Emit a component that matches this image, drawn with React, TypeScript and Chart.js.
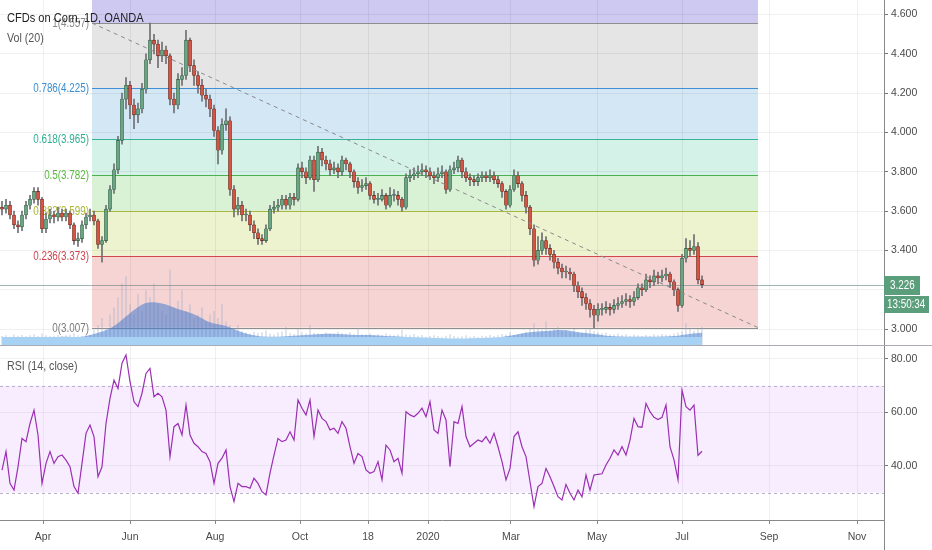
import React, { useEffect, useRef } from 'react';
import { Chart, registerables } from 'chart.js';

Chart.register(...registerables);

const FONT = "'Liberation Sans', Arial, sans-serif";
const CONDENSE = 0.82;

// Each candle = 2 trading sessions (bar index on the x axis)
const opens = [
  3.62,3.61,3.63,3.58,3.53,3.52,3.58,3.63,3.66,3.70,
  3.66,3.51,3.56,3.58,3.57,3.59,3.57,3.59,3.53,3.45,
  3.46,3.53,3.57,3.58,3.55,3.43,3.45,3.61,3.71,3.81,
  3.96,4.17,4.24,4.14,4.09,4.12,4.22,4.37,4.47,4.45,
  4.39,4.42,4.39,4.17,4.14,4.27,4.29,4.47,4.34,4.29,
  4.24,4.19,4.17,4.12,4.01,3.91,4.04,4.06,3.71,3.61,
  3.63,3.58,3.58,3.53,3.49,3.46,3.45,3.51,3.61,3.62,
  3.63,3.66,3.63,3.67,3.66,3.82,3.80,3.77,3.86,3.76,
  3.90,3.86,3.84,3.81,3.82,3.80,3.86,3.84,3.80,3.75,
  3.72,3.73,3.74,3.68,3.66,3.66,3.68,3.63,3.68,3.68,
  3.66,3.62,3.77,3.78,3.79,3.80,3.81,3.80,3.78,3.77,
  3.79,3.80,3.71,3.81,3.82,3.86,3.80,3.77,3.76,3.75,
  3.77,3.78,3.77,3.78,3.76,3.74,3.70,3.63,3.71,3.78,
  3.74,3.68,3.62,3.51,3.35,3.40,3.45,3.41,3.38,3.34,
  3.31,3.29,3.29,3.28,3.22,3.19,3.16,3.13,3.10,3.07,
  3.10,3.10,3.11,3.10,3.12,3.13,3.14,3.15,3.14,3.16,
  3.21,3.20,3.25,3.24,3.27,3.26,3.27,3.28,3.24,3.20,
  3.12,3.36,3.41,3.40,3.42,3.25,
];
const highs = [
  3.65,3.66,3.65,3.60,3.55,3.60,3.65,3.68,3.72,3.72,
  3.67,3.59,3.61,3.60,3.62,3.61,3.61,3.60,3.54,3.49,
  3.55,3.59,3.61,3.60,3.56,3.47,3.63,3.73,3.84,3.98,
  4.20,4.28,4.26,4.17,4.15,4.25,4.40,4.557,4.50,4.47,
  4.46,4.44,4.40,4.20,4.30,4.33,4.52,4.48,4.37,4.31,
  4.27,4.22,4.19,4.14,4.03,4.07,4.12,4.08,3.73,3.67,
  3.65,3.61,3.60,3.55,3.51,3.48,3.53,3.63,3.65,3.66,
  3.68,3.68,3.69,3.69,3.84,3.85,3.82,3.88,3.88,3.93,
  3.92,3.88,3.86,3.85,3.84,3.88,3.87,3.85,3.81,3.77,
  3.76,3.77,3.75,3.70,3.69,3.71,3.69,3.72,3.71,3.70,
  3.67,3.79,3.81,3.82,3.83,3.84,3.83,3.82,3.80,3.82,
  3.83,3.81,3.83,3.85,3.88,3.87,3.82,3.79,3.78,3.79,
  3.80,3.80,3.81,3.80,3.78,3.75,3.71,3.73,3.81,3.80,
  3.75,3.70,3.63,3.53,3.47,3.49,3.47,3.43,3.40,3.36,
  3.33,3.32,3.31,3.29,3.24,3.21,3.18,3.15,3.12,3.13,
  3.13,3.14,3.13,3.15,3.16,3.17,3.18,3.17,3.19,3.23,
  3.23,3.28,3.27,3.30,3.29,3.30,3.31,3.29,3.25,3.21,
  3.38,3.46,3.45,3.48,3.44,3.27,
];
const lows = [
  3.58,3.59,3.56,3.51,3.49,3.50,3.56,3.61,3.64,3.63,
  3.49,3.49,3.54,3.54,3.55,3.55,3.55,3.51,3.43,3.42,
  3.44,3.51,3.55,3.53,3.41,3.34,3.44,3.60,3.69,3.79,
  3.94,4.12,4.07,4.02,4.05,4.10,4.20,4.35,4.40,4.33,
  4.36,4.35,4.14,4.10,4.12,4.24,4.27,4.31,4.24,4.20,
  4.16,4.13,4.08,3.98,3.84,3.89,4.01,3.68,3.57,3.58,
  3.55,3.55,3.50,3.46,3.43,3.43,3.44,3.50,3.59,3.60,
  3.61,3.61,3.61,3.63,3.65,3.77,3.74,3.76,3.70,3.75,
  3.83,3.81,3.78,3.79,3.77,3.78,3.81,3.77,3.72,3.69,
  3.70,3.71,3.66,3.64,3.63,3.65,3.61,3.62,3.65,3.63,
  3.60,3.61,3.75,3.76,3.77,3.78,3.77,3.76,3.74,3.75,
  3.77,3.69,3.70,3.79,3.80,3.77,3.75,3.73,3.73,3.73,
  3.75,3.75,3.75,3.74,3.72,3.67,3.61,3.62,3.70,3.72,
  3.65,3.59,3.48,3.32,3.33,3.38,3.38,3.35,3.31,3.28,
  3.26,3.26,3.25,3.19,3.16,3.12,3.10,3.06,3.007,3.04,
  3.07,3.08,3.07,3.08,3.10,3.11,3.12,3.11,3.12,3.15,
  3.17,3.19,3.21,3.22,3.23,3.24,3.25,3.21,3.17,3.09,
  3.11,3.34,3.37,3.38,3.23,3.21,
];
const closes = [
  3.61,3.63,3.58,3.53,3.52,3.58,3.63,3.66,3.70,3.66,
  3.51,3.56,3.58,3.57,3.59,3.57,3.59,3.53,3.45,3.46,
  3.53,3.57,3.58,3.55,3.43,3.45,3.61,3.71,3.81,3.96,
  4.17,4.24,4.14,4.09,4.12,4.22,4.37,4.47,4.45,4.39,
  4.42,4.39,4.17,4.14,4.27,4.29,4.47,4.34,4.29,4.24,
  4.19,4.17,4.12,4.01,3.91,4.04,4.06,3.71,3.61,3.63,
  3.58,3.58,3.53,3.49,3.46,3.45,3.51,3.61,3.62,3.63,
  3.66,3.63,3.67,3.66,3.82,3.80,3.77,3.86,3.76,3.90,
  3.86,3.84,3.81,3.82,3.80,3.86,3.84,3.80,3.75,3.72,
  3.73,3.74,3.68,3.66,3.66,3.68,3.63,3.68,3.68,3.66,
  3.62,3.77,3.78,3.79,3.80,3.81,3.80,3.78,3.77,3.79,
  3.80,3.71,3.81,3.82,3.86,3.80,3.77,3.76,3.75,3.77,
  3.78,3.77,3.78,3.76,3.74,3.70,3.63,3.71,3.78,3.74,
  3.68,3.62,3.51,3.35,3.40,3.45,3.41,3.38,3.34,3.31,
  3.29,3.29,3.28,3.22,3.19,3.16,3.13,3.10,3.07,3.10,
  3.10,3.11,3.10,3.12,3.13,3.14,3.15,3.14,3.16,3.21,
  3.20,3.25,3.24,3.27,3.26,3.27,3.28,3.24,3.20,3.12,
  3.36,3.41,3.40,3.42,3.25,3.226,
];
const volumes = [
  2.8,3.0,2.6,3.2,2.9,3.1,2.7,3.0,3.3,2.8,3.5,3.0,2.7,2.9,3.1,2.8,3.0,3.2,3.6,3.0,2.9,3.3,3.1,
  4.5,6,8,5,9,11,14,18,20,12,9,15,10,16,14,18,12,10,9,22,11,13,16,10,12,8,9,11,7,9,10,8,12,7,6,5,6,
  4.2,3.8,3.5,4.0,3.6,3.9,4.4,3.5,3.2,3.8,4.1,5.5,3.6,3.4,4.8,3.9,3.5,6.0,3.7,3.6,
  3.4,3.8,3.5,3.3,4.0,3.6,3.5,3.9,3.4,5.2,3.3,3.2,3.6,3.0,3.4,3.1,3.5,3.2,3.0,3.3,
  4.5,3.2,3.0,3.4,2.9,3.1,2.6,2.8,3.0,2.7,2.5,2.9,3.3,2.8,2.6,2.7,3.0,2.6,2.8,2.5,
  2.9,2.7,3.1,2.8,3.0,3.4,3.2,3.9,3.1,3.3,3.6,
  4.0,4.8,6.5,5.2,4.6,7.0,4.4,4.9,5.5,4.2,4.5,3.9,4.8,4.1,3.8,4.6,5.0,4.3,3.9,3.6,
  3.8,3.4,3.2,3.5,3.1,3.3,2.9,3.2,3.0,2.8,3.1,2.9,3.3,3.0,3.4,3.2,3.1,3.5,3.8,4.2,
  6.5,5.0,4.4,4.8,5.5,
];
// Vol (20) moving average, sampled every 4th candle
const volumeMA = [
  2.6,2.6,2.6,2.6,2.7,2.7,3.8,5.8,9.5,12.4,12.3,10.7,9.2,6.9,5.8,4.0,2.9,2.7,2.9,3.2,
  3.5,3.5,3.2,3.2,2.9,2.7,2.5,2.3,2.2,2.2,2.3,2.5,3.2,4.0,4.3,4.6,4.0,3.5,2.9,2.7,
  2.7,2.7,2.9,3.5,3.8,
];
const volumeStripLevel = 2.7;
const rsiValues = [
  38.5,45.4,33.5,31.0,39.7,50.3,49.1,55.9,60.9,51.6,
  33.5,41.0,45.4,41.0,43.5,44.1,42.2,39.7,32.3,29.8,
  41.0,52.2,55.3,51.0,36.0,39.7,55.9,65.3,72.1,69.0,
  78.4,81.5,71.5,64.0,62.2,67.2,74.6,76.5,65.9,67.2,
  65.9,60.9,43.5,54.7,55.9,51.6,62.8,51.6,48.5,47.2,
  45.4,44.7,41.6,33.5,41.0,42.9,46.0,32.3,26.7,33.5,
  32.3,32.3,31.7,35.4,33.5,30.4,29.2,37.3,44.1,50.3,
  49.1,49.7,52.8,49.7,64.7,61.6,59.1,64.7,51.0,60.9,
  57.8,56.6,53.5,54.1,52.2,56.6,54.1,47.2,41.0,44.7,
  43.5,38.5,37.3,37.9,41.6,34.8,47.8,46.0,41.6,42.9,
  37.3,60.3,59.1,58.4,59.7,61.6,58.4,64.0,53.5,52.2,
  60.9,57.2,39.7,56.6,55.9,62.2,51.0,
  47.2,48.5,49.7,49.1,51.0,48.5,52.2,47.2,41.6,34.8,
  39.1,51.0,52.8,47.2,43.5,34.1,24.8,32.3,33.5,39.1,
  36.0,32.3,28.5,27.3,33.1,29.8,27.3,31.0,28.5,36.6,
  31.0,36.6,36.9,37.1,40.4,42.9,46.0,44.1,47.2,44.1,
  49.7,57.8,54.7,54.5,63.4,60.3,58.2,57.4,58.2,62.8,
  47.2,42.3,34.8,68.4,62.2,60.9,62.8,44.0,45.5,
];

const priceTicks = [3.0, 3.2, 3.4, 3.6, 3.8, 4.0, 4.2, 4.4, 4.6];
const rsiTicks = [40, 60, 80];
const rsiBands = [70, 30];
const monthTicks = [21.5, 65, 107.5, 150, 184, 214, 255.5, 298.5, 341, 384.5, 428.5];
const monthLabels = ['Apr', 'Jun', 'Aug', 'Oct', '18', '2020', 'Mar', 'May', 'Jul', 'Sep', 'Nov'];

const fibRatios = [1, 0.786, 0.618, 0.5, 0.382, 0.236, 0];
const fibPrices = [4.557, 4.225, 3.965, 3.782, 3.599, 3.373, 3.007];
const fibLineColors = ['#8e8e8e', '#3f8fd2', '#36b394', '#4caf50', '#a9b83c', '#d04848', '#8e8e8e'];
const fibLabelColors = ['#8a8a8a', '#3a8ed0', '#2fb08f', '#55b83a', '#a9b634', '#d0434d', '#7a7a7a'];
const fibBandColors = ['#cdc9f1', '#e5e5e5', '#d3e7f5', '#d4f2e7', '#d9f1d5', '#eef3cf', '#f6d4d4'];
const fibStartBar = 46;
const fibEndBar = 379;

const lastPrice = 3.226;
const countdown = '13:50:34';

const X_MIN = 0;
const X_MAX = 442;
const candleT = (i: number) => 1 + 2 * i;

function condensedText(ctx: any, text: string, x: number, y: number, align: string) {
  ctx.save();
  ctx.translate(x, y);
  ctx.scale(CONDENSE, 1);
  ctx.textAlign = align;
  ctx.fillText(text, 0, 0);
  ctx.restore();
}

const noPad = (s: any) => {
  s.paddingTop = 0;
  s.paddingBottom = 0;
  s.paddingLeft = 0;
  s.paddingRight = 0;
};

const fibPlugin = {
  id: 'fibTools',
  beforeDraw(chart: any) {
    const { ctx, chartArea, scales } = chart;
    const x = scales.x, y = scales.y;
    const x0 = x.getPixelForValue(fibStartBar), x1 = x.getPixelForValue(fibEndBar);
    ctx.save();
    ctx.fillStyle = fibBandColors[0];
    ctx.fillRect(x0, chartArea.top, x1 - x0, y.getPixelForValue(fibPrices[0]) - chartArea.top);
    for (let k = 0; k < fibPrices.length - 1; k++) {
      const ya = y.getPixelForValue(fibPrices[k]);
      const yb = y.getPixelForValue(fibPrices[k + 1]);
      ctx.fillStyle = fibBandColors[k + 1];
      ctx.fillRect(x0, ya, x1 - x0, yb - ya);
    }
    ctx.restore();
  },
  beforeDatasetsDraw(chart: any) {
    const { ctx, scales } = chart;
    const x = scales.x, y = scales.y;
    const x0 = x.getPixelForValue(fibStartBar), x1 = x.getPixelForValue(fibEndBar);
    ctx.save();
    ctx.font = `12px ${FONT}`;
    ctx.textBaseline = 'middle';
    fibPrices.forEach((p, k) => {
      const py = Math.round(y.getPixelForValue(p)) + 0.5;
      ctx.strokeStyle = fibLineColors[k];
      ctx.lineWidth = 1;
      ctx.beginPath();
      ctx.moveTo(x0, py);
      ctx.lineTo(x1, py);
      ctx.stroke();
      ctx.fillStyle = fibLabelColors[k];
      condensedText(ctx, `${fibRatios[k]}(${p.toFixed(3)})`, x0 - 3, py, 'right');
    });
    ctx.restore();
  },
  afterDatasetsDraw(chart: any) {
    const { ctx, chartArea, scales } = chart;
    const x = scales.x, y = scales.y;
    ctx.save();
    ctx.strokeStyle = '#8a8a8a';
    ctx.setLineDash([4, 4]);
    ctx.lineWidth = 1;
    ctx.beginPath();
    ctx.moveTo(x.getPixelForValue(fibStartBar), y.getPixelForValue(fibPrices[0]));
    ctx.lineTo(x.getPixelForValue(fibEndBar), y.getPixelForValue(fibPrices[fibPrices.length - 1]));
    ctx.stroke();
    ctx.setLineDash([]);
    const py = Math.round(y.getPixelForValue(lastPrice)) + 0.5;
    ctx.strokeStyle = 'rgba(90,120,120,0.55)';
    ctx.beginPath();
    ctx.moveTo(chartArea.left, py);
    ctx.lineTo(chartArea.right, py);
    ctx.stroke();
    ctx.restore();
  },
  afterDraw(chart: any) {
    const { ctx, chartArea, scales } = chart;
    const y = scales.y;
    const py = Math.round(y.getPixelForValue(lastPrice));
    const left = chartArea.right;
    ctx.save();
    ctx.fillStyle = '#5a9e7b';
    ctx.fillRect(left, py - 9, 36, 19);
    ctx.fillRect(left, py + 11, 45, 17);
    ctx.fillStyle = '#ffffff';
    ctx.font = `12px ${FONT}`;
    ctx.textBaseline = 'middle';
    condensedText(ctx, lastPrice.toFixed(3), left + 6, py + 1, 'left');
    condensedText(ctx, countdown, left + 3, py + 20, 'left');
    ctx.strokeStyle = '#a9acb5';
    ctx.lineWidth = 1;
    ctx.beginPath();
    ctx.moveTo(0, chart.height - 0.5);
    ctx.lineTo(chart.width, chart.height - 0.5);
    ctx.stroke();
    ctx.restore();
  },
};

const rsiPlugin = {
  id: 'rsiTools',
  beforeDatasetsDraw(chart: any) {
    const { ctx, chartArea: a, scales } = chart;
    const y = scales.y;
    const yU = y.getPixelForValue(rsiBands[0]);
    const yL = y.getPixelForValue(rsiBands[1]);
    ctx.save();
    ctx.fillStyle = 'rgba(153,21,255,0.08)';
    ctx.fillRect(a.left, yU, a.right - a.left, yL - yU);
    ctx.strokeStyle = '#b9b1c6';
    ctx.setLineDash([3, 3]);
    ctx.lineWidth = 1;
    [yU, yL].forEach((v) => {
      const yy = Math.round(v) + 0.5;
      ctx.beginPath();
      ctx.moveTo(a.left, yy);
      ctx.lineTo(a.right, yy);
      ctx.stroke();
    });
    ctx.restore();
  },
  afterDraw(chart: any) {
    const { ctx, chartArea: a } = chart;
    ctx.save();
    ctx.strokeStyle = '#888888';
    ctx.lineWidth = 1;
    ctx.beginPath();
    ctx.moveTo(Math.round(a.right) + 0.5, a.bottom);
    ctx.lineTo(Math.round(a.right) + 0.5, chart.height);
    ctx.stroke();
    ctx.restore();
  },
};

function maFill(context: any) {
  const chart = context.chart;
  const area = chart.chartArea;
  if (!area) return 'rgba(55,115,205,0.5)';
  const yv = chart.scales.yv;
  const yStrip = yv.getPixelForValue(volumeStripLevel);
  const f = Math.min(1, Math.max(0, (area.bottom - yStrip) / (area.bottom - area.top)));
  const g = chart.ctx.createLinearGradient(0, area.bottom, 0, area.top);
  g.addColorStop(0, '#a7d2f4');
  g.addColorStop(f, '#a7d2f4');
  g.addColorStop(f, 'rgba(55,115,205,0.5)');
  g.addColorStop(1, 'rgba(55,115,205,0.5)');
  return g;
}

function PriceChart() {
  const ref = useRef<HTMLCanvasElement>(null);
  useEffect(() => {
    const canvas = ref.current;
    if (!canvas) return;
    const up = closes.map((c, i) => c >= opens[i]);
    const chart = new Chart(canvas, {
      type: 'bar',
      data: {
        datasets: [
          {
            type: 'bar',
            label: 'Candles',
            data: opens.map((o, i) => ({ x: candleT(i), y: [o, closes[i]] })),
            backgroundColor: up.map((u) => (u ? '#6ba583' : '#d75442')),
            borderColor: up.map((u) => (u ? '#225437' : '#5b1a13')),
            borderWidth: 0.6,
            borderSkipped: false,
            barThickness: 3,
            minBarLength: 1,
            grouped: false,
            yAxisID: 'y',
            order: 0,
          } as any,
          {
            type: 'bar',
            label: 'Wicks',
            data: lows.map((l, i) => ({ x: candleT(i), y: [l, highs[i]] })),
            backgroundColor: '#6f6f72',
            barThickness: 1,
            grouped: false,
            yAxisID: 'y',
            order: 1,
          } as any,
          {
            type: 'line',
            label: 'Vol (20)',
            data: volumeMA.map((v, k) => ({ x: candleT(Math.min(4 * k, closes.length - 1)), y: v })),
            yAxisID: 'yv',
            fill: 'origin',
            backgroundColor: maFill,
            borderWidth: 0,
            borderColor: 'rgba(0,0,0,0)',
            pointRadius: 0,
            tension: 0.35,
            order: 2,
          } as any,
          {
            type: 'bar',
            label: 'Volume',
            data: volumes.map((v, i) => ({ x: candleT(i), y: v })),
            backgroundColor: 'rgba(150,165,195,0.35)',
            barThickness: 1,
            grouped: false,
            yAxisID: 'yv',
            order: 3,
          } as any,
        ],
      },
      options: {
        animation: false,
        responsive: false,
        maintainAspectRatio: false,
        layout: { padding: 0 },
        plugins: { legend: { display: false }, tooltip: { enabled: false } },
        scales: {
          x: {
            type: 'linear',
            min: X_MIN,
            max: X_MAX,
            offset: false,
            afterBuildTicks: (s: any) => { s.ticks = monthTicks.map((v) => ({ value: v })); },
            afterFit: (s: any) => { s.height = 0; noPad(s); },
            ticks: { display: false },
            grid: { color: 'rgba(0,0,0,0.06)', drawTicks: false, offset: false },
            border: { display: false },
          },
          y: {
            type: 'linear',
            position: 'right',
            min: 2.9135,
            max: 4.6743,
            afterBuildTicks: (s: any) => { s.ticks = priceTicks.map((v) => ({ value: v })); },
            afterFit: (s: any) => { s.width = 48; noPad(s); },
            ticks: {
              callback: (v: any) => Number(v).toFixed(3),
              color: '#4a4a4a',
              font: { family: FONT, size: 10.5 },
              padding: 3,
            },
            grid: { color: 'rgba(0,0,0,0.06)', tickColor: '#777', tickLength: 4 },
            border: { color: '#888' },
          },
          yv: {
            type: 'linear',
            display: false,
            min: 0,
            max: 100,
          },
        },
      } as any,
      plugins: [fibPlugin],
    });
    return () => chart.destroy();
  }, []);
  return (
    <canvas
      ref={ref}
      width={932}
      height={346}
      style={{ position: 'absolute', left: 0, top: 0, width: 932, height: 346 }}
    />
  );
}

function RsiChart() {
  const ref = useRef<HTMLCanvasElement>(null);
  useEffect(() => {
    const canvas = ref.current;
    if (!canvas) return;
    const chart = new Chart(canvas, {
      type: 'line',
      data: {
        datasets: [
          {
            label: 'RSI (14, close)',
            data: rsiValues.map((v, i) => ({ x: candleT(i), y: v })),
            borderColor: '#9b2fb2',
            borderWidth: 1.2,
            pointRadius: 0,
            tension: 0,
            fill: false,
          },
        ],
      },
      options: {
        animation: false,
        responsive: false,
        maintainAspectRatio: false,
        layout: { padding: 0 },
        plugins: { legend: { display: false }, tooltip: { enabled: false } },
        scales: {
          x: {
            type: 'linear',
            min: X_MIN,
            max: X_MAX,
            afterBuildTicks: (s: any) => { s.ticks = monthTicks.map((v) => ({ value: v })); },
            afterFit: (s: any) => { s.height = 30; noPad(s); },
            ticks: {
              callback: (v: any) => {
                const k = monthTicks.indexOf(Number(v));
                return k >= 0 ? monthLabels[k] : '';
              },
              color: '#4a4a4a',
              font: { family: FONT, size: 10.5 },
              padding: 7,
              maxRotation: 0,
              autoSkip: false,
            },
            grid: { color: 'rgba(0,0,0,0.06)', tickColor: '#888', tickLength: 4 },
            border: { color: '#888' },
          },
          y: {
            type: 'linear',
            position: 'right',
            min: 19.81,
            max: 84.86,
            afterBuildTicks: (s: any) => { s.ticks = rsiTicks.map((v) => ({ value: v })); },
            afterFit: (s: any) => { s.width = 48; noPad(s); },
            ticks: {
              callback: (v: any) => Number(v).toFixed(2),
              color: '#4a4a4a',
              font: { family: FONT, size: 10.5 },
              padding: 3,
            },
            grid: { color: 'rgba(0,0,0,0.06)', tickColor: '#777', tickLength: 4 },
            border: { color: '#888' },
          },
        },
      } as any,
      plugins: [rsiPlugin],
    });
    return () => chart.destroy();
  }, []);
  return (
    <canvas
      ref={ref}
      width={932}
      height={204}
      style={{ position: 'absolute', left: 0, top: 346, width: 932, height: 204 }}
    />
  );
}

const labelStyle = (top: number, color: string, size: number) => ({
  position: 'absolute' as const,
  left: 7,
  top,
  fontSize: size,
  lineHeight: '16px',
  color,
  whiteSpace: 'nowrap' as const,
  transform: `scaleX(${CONDENSE})`,
  transformOrigin: 'left center',
});

export default function App() {
  return (
    <div
      style={{
        position: 'fixed',
        left: 0,
        top: 0,
        width: 932,
        height: 550,
        background: '#ffffff',
        fontFamily: FONT,
        overflow: 'hidden',
      }}
    >
      <PriceChart />
      <RsiChart />
      <div style={labelStyle(10, '#222', 13.5)}>CFDs on Corn, 1D, OANDA</div>
      <div style={labelStyle(30, '#555', 13)}>Vol (20)</div>
      <div style={labelStyle(358, '#555', 13)}>RSI (14, close)</div>
    </div>
  );
}
